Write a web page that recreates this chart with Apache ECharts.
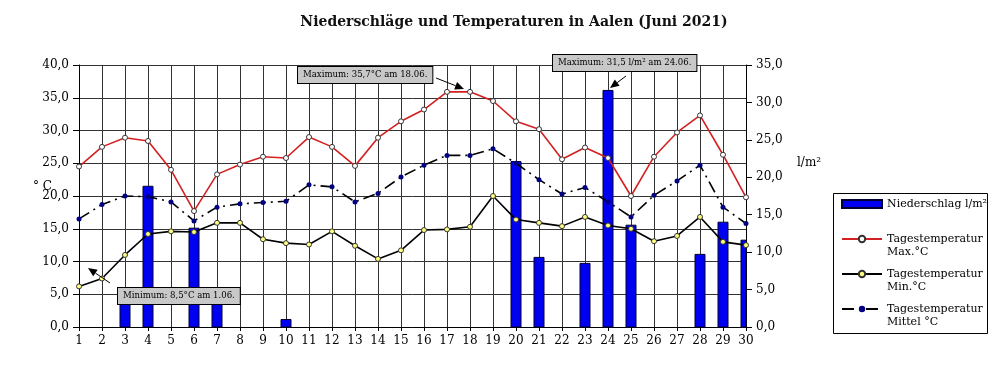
<!DOCTYPE html>
<html>
<head>
<meta charset="utf-8">
<script src="https://cdn.jsdelivr.net/npm/echarts@6/dist/echarts.min.js"></script>
<style>
html,body{margin:0;padding:0;background:#fff;}
#chart{width:1000px;height:367px;}
</style>
</head>
<body>
<div id="chart"></div>
<script>
// ---- data ----
var days = ['1','2','3','4','5','6','7','8','9','10','11','12','13','14','15','16','17','18','19','20','21','22','23','24','25','26','27','28','29','30'];
var rain = [null,null,4.2,18.8,null,13.2,3.8,null,null,1.0,null,null,null,null,null,null,null,null,null,22.1,9.3,null,8.5,31.6,13.6,null,null,9.7,14.0,11.6];
var tMax = [24.5,27.5,28.9,28.4,24.0,17.7,23.3,24.8,26.0,25.8,29.0,27.5,24.6,28.9,31.4,33.2,35.9,35.9,34.5,31.4,30.2,25.6,27.4,25.8,20.0,26.0,29.7,32.3,26.3,19.8];
var tMin = [6.2,7.4,11.0,14.2,14.6,14.5,15.9,15.9,13.4,12.8,12.6,14.6,12.4,10.4,11.7,14.8,14.9,15.3,20.0,16.4,15.9,15.4,16.8,15.5,15.0,13.1,13.9,16.8,13.0,12.5];
var tMean = [16.5,18.7,20.0,19.9,19.1,16.2,18.3,18.8,19.0,19.2,21.7,21.4,19.1,20.4,22.9,24.7,26.2,26.2,27.2,25.0,22.5,20.3,21.3,19.1,16.8,20.1,22.3,24.7,18.3,15.8];
var seriesNames = ['Niederschlag l/m²', 'Tagestemperatur\nMax.°C', 'Tagestemperatur\nMin.°C', 'Tagestemperatur\nMittel °C'];
var titleText = 'Niederschläge und Temperaturen in Aalen (Juni 2021)';
var noteMaxT = 'Maximum: 35,7°C am 18.06.';
var noteMaxR = 'Maximum: 31,5 l/m² am 24.06.';
var noteMinT = 'Minimum: 8,5°C am 1.06.';

var FONT = '"DejaVu Serif", serif';
var FONT_C = '"DejaVu Serif Condensed", "DejaVu Serif", serif';
function fmt(v){ return v.toFixed(1).replace('.', ','); }

function arrow(x1, y1, x2, y2){
  var dx = x2 - x1, dy = y2 - y1, L = Math.sqrt(dx*dx + dy*dy);
  var ux = dx / L, uy = dy / L, len = 9, hw = 4;
  var bx = x2 - ux*len, by = y2 - uy*len;
  return [
    {type:'line', z:100, shape:{x1:x1, y1:y1, x2:bx, y2:by}, style:{stroke:'#000', lineWidth:1}},
    {type:'polygon', z:100, shape:{points:[[x2,y2],[bx - uy*hw, by + ux*hw],[bx + uy*hw, by - ux*hw]]}, style:{fill:'#000'}}
  ];
}
function note(txt, x, y){
  return {type:'text', z:100, x:x, y:y, style:{text:txt, font:'9.5px ' + FONT_C, fill:'#000',
    backgroundColor:'#c8c8c8', borderColor:'#000', borderWidth:1, padding:[3,5,3,5]}};
}

var rainData = [];
rain.forEach(function(v, i){ if (v != null) rainData.push([i, v]); });

function renderBar(params, api){
  var base = api.coord([api.value(0), 0]);
  var top = api.coord([api.value(0), api.value(1)]);
  var w = 10;
  var rect = {x: top[0] - w/2, y: top[1], width: w, height: base[1] - top[1]};
  var cs = params.coordSys;
  var clipped = echarts.graphic.clipRectByRect(rect, {x: cs.x, y: cs.y, width: cs.width, height: cs.height});
  if (!clipped) return;
  return {type:'rect', shape: clipped, style: api.style()};
}

var chart = echarts.init(document.getElementById('chart'), null, {renderer:'canvas'});
var graphics = [].concat(
  [{type:'rect', z:-1, shape:{x:833.5, y:193.5, width:154, height:140}, style:{fill:'#fff', stroke:'#000', lineWidth:1}}],
  [note(noteMaxT, 298, 67), note(noteMaxR, 553, 55), note(noteMinT, 118, 288)],
  arrow(436, 78, 464, 89),
  arrow(626, 76, 610, 88),
  arrow(110, 283, 88, 268)
);

chart.setOption({
  animation:false,
  backgroundColor:'#fff',
  title:{text:titleText, left:509, textAlign:'center', top:10,
    textStyle:{fontFamily:FONT, fontSize:14, fontWeight:'bold', color:'#111'}},
  grid:{left:79, right:254, top:65, bottom:40},
  legend:{
    orient:'vertical', left:841, top:184.5, padding:0,
    itemWidth:40, itemHeight:8, itemGap:-4,
    textStyle:{fontFamily:FONT, fontSize:11, color:'#000', lineHeight:13},
    formatter:function(name){ return name.indexOf('\n') >= 0 ? '\n' + name : '\n' + name + '\n'; },
    data:[
      {name:seriesNames[0], icon:'rect'},
      {name:seriesNames[1]},
      {name:seriesNames[2]},
      {name:seriesNames[3]}
    ]
  },
  xAxis:{
    type:'category', data:days, boundaryGap:false,
    axisLine:{lineStyle:{color:'#000'}},
    axisTick:{show:true, length:4, alignWithLabel:true, lineStyle:{color:'#000'}},
    axisLabel:{fontFamily:FONT, fontSize:12, color:'#000', margin:8},
    splitLine:{show:true, lineStyle:{color:'#333', width:1}}
  },
  yAxis:[
    {type:'value', min:0, max:40, interval:5, name:'° C', nameLocation:'middle', nameRotate:0, nameGap:27,
      nameMoveOverlap:false,
      nameTextStyle:{fontFamily:FONT, fontSize:12, color:'#000', verticalAlign:'bottom', padding:[0,0,3,0]},
      axisLine:{show:true, lineStyle:{color:'#000'}},
      axisTick:{show:true, length:6, lineStyle:{color:'#000'}},
      axisLabel:{fontFamily:FONT, fontSize:12, color:'#000', formatter:fmt, margin:10},
      splitLine:{show:true, lineStyle:{color:'#333', width:1}}},
    {type:'value', min:0, max:35, interval:5, position:'right', name:'l/m²', nameLocation:'middle', nameRotate:0, nameGap:51,
      nameMoveOverlap:false,
      nameTextStyle:{fontFamily:FONT, fontSize:12, color:'#000', verticalAlign:'bottom', padding:[0,0,27,0]},
      axisLine:{show:true, lineStyle:{color:'#000'}},
      axisTick:{show:true, length:6, lineStyle:{color:'#000'}},
      axisLabel:{fontFamily:FONT, fontSize:12, color:'#000', formatter:fmt, margin:10},
      splitLine:{show:false}}
  ],
  series:[
    {name:seriesNames[0], type:'custom', yAxisIndex:1, data:rainData, encode:{x:0, y:1},
      renderItem:renderBar,
      itemStyle:{color:'#0000f0', borderColor:'#000033', borderWidth:1}},
    {name:seriesNames[1], type:'line', data:tMax, symbol:'circle', symbolSize:5,
      lineStyle:{color:'#d42020', width:1.6},
      itemStyle:{color:'#ffffff', borderColor:'#333', borderWidth:1}},
    {name:seriesNames[2], type:'line', data:tMin, symbol:'circle', symbolSize:5,
      lineStyle:{color:'#000', width:1.6},
      itemStyle:{color:'#ffff80', borderColor:'#333', borderWidth:1}},
    {name:seriesNames[3], type:'line', data:tMean, symbol:'circle', symbolSize:5,
      lineStyle:{color:'#000', width:1.6, type:[12,5,2,5]},
      itemStyle:{color:'#000080', borderColor:'#000080', borderWidth:0}}
  ],
  graphic:graphics
});
</script>
</body>
</html>
